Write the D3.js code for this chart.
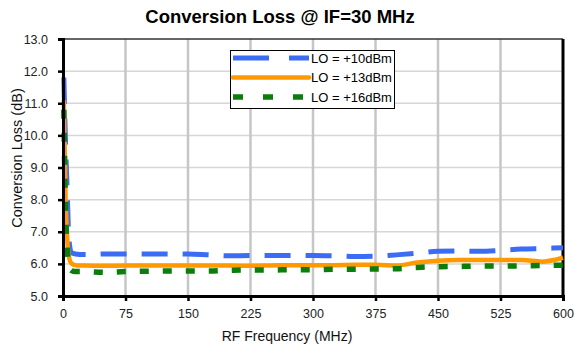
<!DOCTYPE html>
<html>
<head>
<meta charset="utf-8">
<script src="https://cdn.jsdelivr.net/npm/d3@7"></script>
<style>
  html, body { margin: 0; padding: 0; background: #fff; }
  svg { display: block; font-family: Arial, "Liberation Sans", sans-serif; }
</style>
</head>
<body>
<svg id="chart" width="574" height="353"></svg>
<script>
// RF frequency points (MHz)
const freqs = [1, 3, 5, 7, 10, 15, 25, 50, 75, 100, 125, 150, 175, 200, 225, 250, 275,
               300, 325, 350, 375, 400, 425, 450, 475, 500, 525, 550, 575, 600];

// Conversion loss (dB) for each LO drive level
const lo10 = [11.8, 9.8, 8.3, 6.8, 6.35, 6.31, 6.29, 6.31, 6.31, 6.31, 6.31, 6.31, 6.28, 6.25, 6.26, 6.26, 6.26,
              6.26, 6.25, 6.23, 6.24, 6.28, 6.33, 6.39, 6.40, 6.39, 6.42, 6.46, 6.48, 6.50];
const lo13 = [11.1, 8.2, 6.8, 6.25, 6.02, 5.96, 5.95, 5.94, 5.95, 5.95, 5.95, 5.95, 5.95, 5.95, 5.94, 5.95, 5.96,
              5.96, 5.96, 5.97, 5.97, 5.95, 6.04, 6.10, 6.12, 6.12, 6.12, 6.12, 6.07, 6.19];
const lo16 = [10.8, 7.8, 6.5, 6.0, 5.8, 5.76, 5.76, 5.74, 5.76, 5.77, 5.78, 5.78, 5.78, 5.80, 5.81, 5.81, 5.82,
              5.82, 5.83, 5.83, 5.84, 5.85, 5.89, 5.91, 5.92, 5.93, 5.93, 5.94, 5.95, 5.96];

const seriesNames = ["LO = +10dBm", "LO = +13dBm", "LO = +16dBm"];

const xTicks = [0, 75, 150, 225, 300, 375, 450, 525, 600];
const yTicks = [5, 6, 7, 8, 9, 10, 11, 12, 13];

const series = [
  { name: seriesNames[0], values: lo10, color: "#3b6cf6", width: 5,   dash: "26,15", legendDash: "36,20" },
  { name: seriesNames[1], values: lo13, color: "#ff9900", width: 4.5, dash: null,    legendDash: null },
  { name: seriesNames[2], values: lo16, color: "#0a7d0a", width: 5.5, dash: "9,14",  legendDash: "10,20" }
];

const svg = d3.select("#chart");
const plot = { left: 63, right: 563, top: 39, bottom: 296 };

const x = d3.scaleLinear().domain([0, 600]).range([plot.left, plot.right]);
const y = d3.scaleLinear().domain([5, 13]).range([plot.bottom, plot.top]);

// Title
svg.append("text")
  .attr("x", 280).attr("y", 23)
  .attr("text-anchor", "middle")
  .style("font-size", "18.5px").style("font-weight", "bold").attr("fill", "#000")
  .text("Conversion Loss @ IF=30 MHz");

// Horizontal gridlines
svg.append("g").selectAll("line")
  .data(yTicks.filter(t => t > 5 && t < 13))
  .join("line")
  .attr("x1", plot.left).attr("x2", plot.right)
  .attr("y1", d => y(d)).attr("y2", d => y(d))
  .attr("stroke", "#d6d6d6").attr("stroke-width", 1.5);

// Vertical gridlines
svg.append("g").selectAll("line")
  .data(xTicks.filter(t => t > 0 && t < 600))
  .join("line")
  .attr("x1", d => x(d)).attr("x2", d => x(d))
  .attr("y1", plot.top).attr("y2", plot.bottom)
  .attr("stroke", "#c6c6c6").attr("stroke-width", 2.5);

// Top and right frame
svg.append("line")
  .attr("x1", plot.left).attr("x2", plot.right)
  .attr("y1", plot.top).attr("y2", plot.top)
  .attr("stroke", "#333").attr("stroke-width", 1.5);
svg.append("line")
  .attr("x1", plot.right).attr("x2", plot.right)
  .attr("y1", plot.top).attr("y2", plot.bottom)
  .attr("stroke", "#000").attr("stroke-width", 3);

// Data lines
const line = d3.line()
  .x((d, i) => x(freqs[i]))
  .y(d => y(d))
  .curve(d3.curveMonotoneX);

svg.append("g").selectAll("path")
  .data(series)
  .join("path")
  .attr("d", s => line(s.values))
  .attr("fill", "none")
  .attr("stroke", s => s.color)
  .attr("stroke-width", s => s.width)
  .attr("stroke-dasharray", s => s.dash)
  .attr("stroke-linejoin", "round");

// Axes
const xAxis = svg.append("g")
  .attr("transform", `translate(0,${plot.bottom})`)
  .call(d3.axisBottom(x).tickValues(xTicks).tickSize(5).tickPadding(8).tickFormat(d3.format("d")));
const yAxis = svg.append("g")
  .attr("transform", `translate(${plot.left},0)`)
  .call(d3.axisLeft(y).tickValues(yTicks).tickSize(5).tickPadding(10).tickFormat(d3.format(".1f")));

[xAxis, yAxis].forEach(g => {
  g.attr("font-size", null).attr("font-family", null);
  g.select(".domain").attr("stroke", "#000").attr("stroke-width", 3);
  g.selectAll(".tick line").attr("stroke", "#000").attr("stroke-width", 2.5);
  g.selectAll(".tick text")
    .style("font-size", "12.5px")
    .style("font-family", "Arial, 'Liberation Sans', sans-serif")
    .attr("fill", "#222");
});

// Axis titles
svg.append("text")
  .attr("x", 287).attr("y", 341)
  .attr("text-anchor", "middle")
  .style("font-size", "14px").attr("fill", "#111")
  .text("RF Frequency (MHz)");
svg.append("text")
  .attr("transform", "translate(22,158) rotate(-90)")
  .attr("text-anchor", "middle")
  .style("font-size", "14.5px").attr("fill", "#111")
  .text("Conversion Loss (dB)");

// Legend
const legend = svg.append("g");
legend.append("rect")
  .attr("x", 230.5).attr("y", 50.5).attr("width", 164).attr("height", 58)
  .attr("fill", "#fff").attr("stroke", "#000").attr("stroke-width", 1);
const rows = legend.selectAll("g.row")
  .data(series)
  .join("g")
  .attr("class", "row")
  .attr("transform", (d, i) => `translate(0,${58 + i * 19.5})`);
rows.append("line")
  .attr("x1", 233).attr("x2", 309)
  .attr("y1", 0).attr("y2", 0)
  .attr("stroke", d => d.color)
  .attr("stroke-width", d => d.width)
  .attr("stroke-linecap", d => d.dash ? "butt" : "round")
  .attr("stroke-dasharray", d => d.legendDash);
rows.append("text")
  .attr("x", 311).attr("y", 4.6)
  .style("font-size", "13px").attr("fill", "#000")
  .text(d => d.name);
</script>
</body>
</html>
